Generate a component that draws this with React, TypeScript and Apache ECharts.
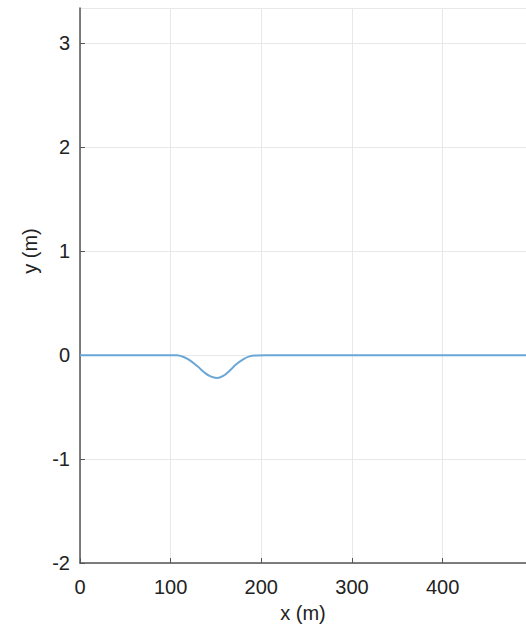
import React, { useEffect, useRef } from "react";
import * as echarts from "echarts";

const xValues = [0, 20, 40, 60, 80, 100, 107, 115, 122, 130, 137, 144, 151, 158, 165, 172, 180, 187, 195, 205, 250, 300, 350, 400, 450, 492];
const yValues = [0, 0, 0, 0, 0, 0, -0.002, -0.02, -0.055, -0.11, -0.165, -0.205, -0.22, -0.2, -0.15, -0.09, -0.04, -0.012, -0.003, 0, 0, 0, 0, 0, 0, 0];
const xTicks = [0, 100, 200, 300, 400];
const yTicks = [-2, -1, 0, 1, 2, 3];

export default function App() {
  const ref = useRef<HTMLDivElement>(null);
  useEffect(() => {
    if (!ref.current) return;
    const chart = echarts.init(ref.current, undefined, { renderer: "svg" });
    const font = "'Liberation Sans', Arial, Helvetica, sans-serif";
    chart.setOption({
      animation: false,
      grid: { left: 80, top: 8, right: 0, bottom: 61, outerBoundsMode: "none", containLabel: false },
      xAxis: {
        type: "value",
        min: 0,
        max: 492,
        interval: 100,
        name: "x (m)",
        nameLocation: "middle",
        nameGap: 40,
        nameTextStyle: { fontSize: 20, color: "#222", fontFamily: font },
        axisLine: { show: true, onZero: false, lineStyle: { color: "#555", width: 1.5 } },
        axisTick: { show: true, inside: true, length: 5, lineStyle: { color: "#555" } },
        axisLabel: {
          fontSize: 20,
          color: "#222",
          fontFamily: font,
          margin: 14,
          showMaxLabel: false,
          formatter: (v: number) => (xTicks.includes(v) ? String(v) : ""),
        },
        splitLine: { show: true, lineStyle: { color: "#e8e8e8", width: 1 } },
      },
      yAxis: {
        type: "value",
        min: -2,
        max: 3.34,
        interval: 1,
        axisLine: { show: true, onZero: false, lineStyle: { color: "#555", width: 1.5 } },
        axisTick: { show: true, inside: true, length: 5, lineStyle: { color: "#555" } },
        axisLabel: {
          fontSize: 20,
          color: "#222",
          fontFamily: font,
          margin: 10,
          showMaxLabel: false,
          formatter: (v: number) => (yTicks.includes(v) ? String(v) : ""),
        },
        splitLine: { show: true, lineStyle: { color: "#e8e8e8", width: 1 } },
      },
      graphic: [
        {
          type: "text",
          x: 30,
          y: 251,
          rotation: Math.PI / 2,
          style: {
            text: "y (m)",
            fontSize: 20,
            fontFamily: font,
            fill: "#222",
            align: "center",
            verticalAlign: "middle",
          },
        },
      ],
      series: [
        {
          type: "line",
          data: xValues.map((x, i) => [x, yValues[i]]),
          smooth: 0.4,
          showSymbol: false,
          lineStyle: { color: "#6aa6d6", width: 2 },
        },
      ],
    });
    return () => chart.dispose();
  }, []);
  return <div ref={ref} style={{ width: 526, height: 624, position: "absolute", left: 0, top: 0 }} />;
}
